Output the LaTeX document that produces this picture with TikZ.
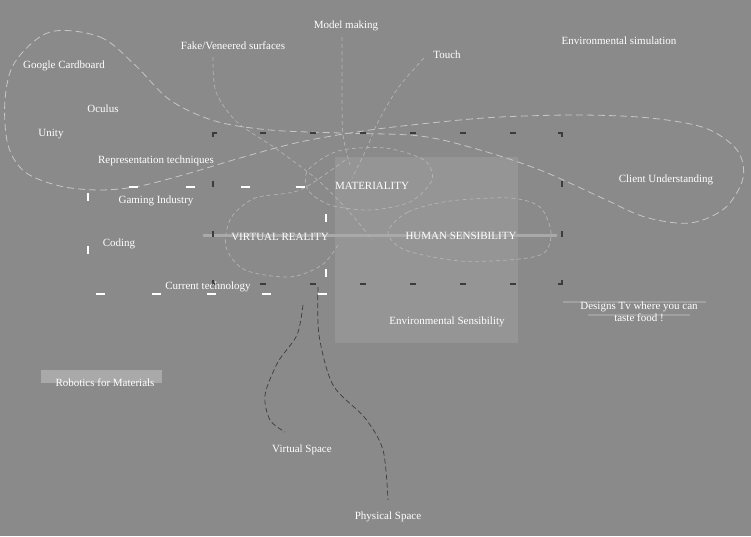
\documentclass[tikz,border=0pt]{standalone}
\usepackage{fontspec}
\setmainfont{Liberation Serif}
\definecolor{bgc}{HTML}{8A8A8A}
\definecolor{panelc}{HTML}{959595}
\definecolor{barc}{HTML}{A9A9A9}
\definecolor{fbarc}{HTML}{A0A0A0}
\definecolor{curvec}{HTML}{C6C6C6}
\definecolor{midcurvec}{HTML}{B4B4B4}
\definecolor{darkc}{HTML}{3C3C3C}
\tikzset{
  lbl/.style={text=white, inner sep=0pt, yshift=-1.5pt, font=\fontsize{11}{13}\selectfont, align=center},
  lightcurve/.style={draw=midcurvec, line width=0.7pt, dash pattern=on 4pt off 3pt},
  loopcurve/.style={draw=curvec, line width=0.8pt, dash pattern=on 7pt off 4pt},
  darkcurve/.style={draw=darkc, line width=0.7pt, dash pattern=on 5pt off 3pt},
  darkmark/.style={draw=darkc, line width=1.1pt},
  whitemark/.style={draw=white, line width=1.5pt},
  hbar/.style={draw=barc, line width=3pt},
  thinbar/.style={draw=fbarc, line width=1.2pt}
}
\begin{document}
\begin{tikzpicture}[x=1pt,y=-1pt]
\useasboundingbox (0,0) rectangle (751,536);
\fill[bgc] (0,0) rectangle (751,536);
% light panel
\fill[panelc] (335,157) rectangle (518,343);
% robotics label bar
\fill[barc] (41,370) rectangle (162,383);
% horizontal bars
\draw[hbar] (203,235) -- (557,235);
\draw[thinbar] (563,302) -- (706,302);
\draw[thinbar] (588,315) -- (690,315);

% big figure-eight loop
\draw[loopcurve] plot[smooth cycle, tension=0.55] coordinates {
 (50,32) (100,37) (135,65) (170,100) (215,121) (270,130) (340,133) (420,136)
 (480,150) (540,170) (600,197) (645,217) (690,223) (725,208) (743,178)
 (737,150) (705,128) (650,118) (580,115) (500,117) (440,122) (370,130)
 (300,142) (240,158) (190,173) (140,186) (100,190) (60,186) (25,172)
 (8,145) (5,100) (15,62)};

% thin dashed curves in the middle
\draw[lightcurve] plot[smooth] coordinates {(213,57) (216,92) (237,122) (278,150) (320,182) (352,215) (372,240)};
\draw[lightcurve] plot[smooth] coordinates {(342,37) (342,90) (343,135) (350,165)};
\draw[lightcurve] plot[smooth] coordinates {(424,58) (398,88) (378,122) (366,150) (352,178)};
\draw[lightcurve] plot[smooth cycle] coordinates {(308,170) (338,151) (385,148) (424,160) (432,180) (410,202) (370,210) (330,205) (308,190)};
\draw[lightcurve] plot[smooth] coordinates {(345,160) (300,190) (255,198) (231,218) (226,247) (245,270) (290,277) (322,265) (338,245)};
\draw[lightcurve] plot[smooth cycle] coordinates {(388,232) (408,212) (450,201) (510,198) (540,207) (551,232) (545,252) (520,259) (460,261) (405,250)};

% dark dashed curves towards the spaces
\draw[darkcurve] plot[smooth] coordinates {(303,305) (297,335) (278,362) (265,395) (270,420) (285,432)};
\draw[darkcurve] plot[smooth] coordinates {(318,287) (319,335) (333,385) (365,418) (383,450) (388,500)};

% dark dashed rectangle marks
\foreach \x in {263,313,363,413,463,513} {
  \draw[darkmark] ({\x-3},133) -- ({\x+3},133);
  \draw[darkmark] ({\x-3},284) -- ({\x+3},284);
}
\foreach \y in {184,234} {
  \draw[darkmark] (213,{\y-3}) -- (213,{\y+3});
  \draw[darkmark] (562,{\y-3}) -- (562,{\y+3});
}
\draw[darkmark] (213,137) -- (213,133) -- (217,133);
\draw[darkmark] (558,133) -- (562,133) -- (562,137);
\draw[darkmark] (562,280) -- (562,284) -- (558,284);
\draw[darkmark] (213,280) -- (213,284) -- (217,284);

% white dashed rectangle marks
\foreach \x in {133,190,245,300} {\draw[whitemark] ({\x-4.5},187) -- ({\x+4.5},187);}
\foreach \x in {100,156,211,266,322} {\draw[whitemark] ({\x-4.5},294) -- ({\x+4.5},294);}
\foreach \y in {197,250} {\draw[whitemark] (88,{\y-4}) -- (88,{\y+4});}
\foreach \y in {218,273} {\draw[whitemark] (326,{\y-4}) -- (326,{\y+4});}

% labels
\node[lbl] (model) at (346,24) {Model making};
\node[lbl] (fake) at (233,44) {Fake/Veneered surfaces};
\node[lbl] (touch) at (447,53) {Touch};
\node[lbl] (envsim) at (619,39) {Environmental simulation};
\node[lbl] (google) at (64,64) {Google Cardboard};
\node[lbl] (oculus) at (103,107) {Oculus};
\node[lbl] (unity) at (51,133) {Unity};
\node[lbl] (repr) at (156,159) {Representation techniques};
\node[lbl] (gaming) at (156,199) {Gaming Industry};
\node[lbl] (coding) at (119,242) {Coding};
\node[lbl] (current) at (208,285) {Current technology};
\node[lbl] (mat) at (372,184) {MATERIALITY};
\node[lbl] (vr) at (280,235) {VIRTUAL REALITY};
\node[lbl] (human) at (461,234) {HUMAN SENSIBILITY};
\node[lbl] (client) at (666,178) {Client Understanding};
\node[lbl] (designs) at (639,310) {Designs Tv where you can\\[-1pt]taste food !};
\node[lbl] (envsens) at (447,320) {Environmental Sensibility};
\node[lbl] (robotics) at (105,381) {Robotics for Materials};
\node[lbl] (vspace) at (302,448) {Virtual Space};
\node[lbl] (pspace) at (388,515) {Physical Space};
\end{tikzpicture}
\end{document}
